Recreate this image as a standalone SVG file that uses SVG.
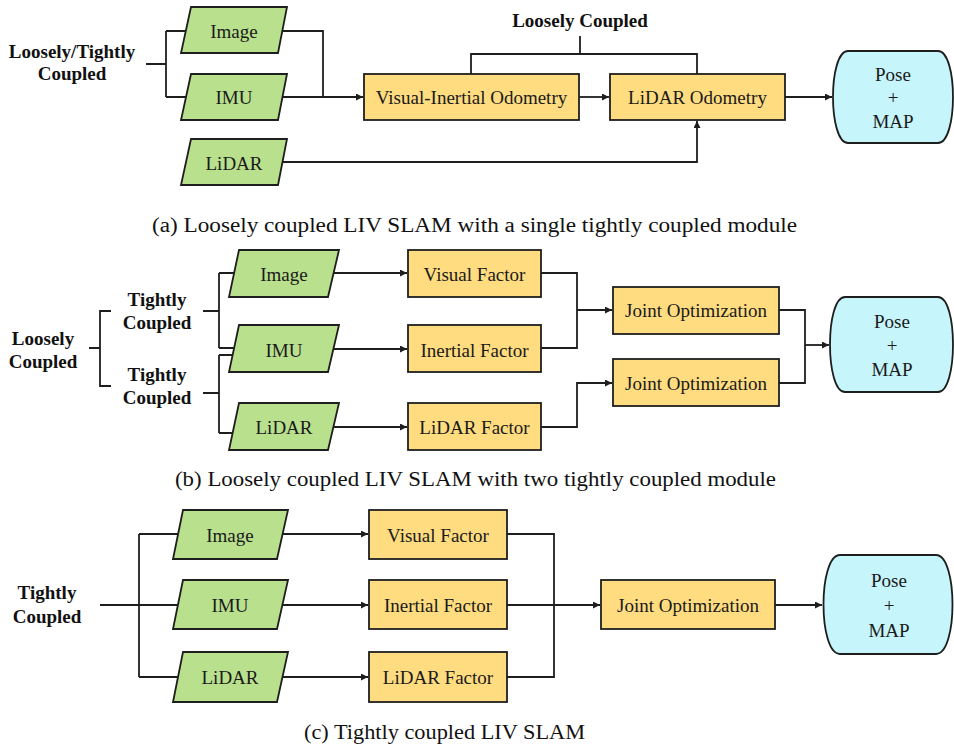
<svg xmlns="http://www.w3.org/2000/svg" width="954" height="746" viewBox="0 0 954 746">
  <style>
    .bg { fill: #ffffff; }
    .in { fill: #b9e08d; stroke: #1e1e1e; stroke-width: 1.8; }
    .box { fill: #ffdc80; stroke: #1e1e1e; stroke-width: 1.8; }
    .out { fill: #c6f5fb; stroke: #1e1e1e; stroke-width: 1.8; }
    text { font-family: 'Liberation Serif', Tinos, 'Times New Roman', 'Nimbus Roman', 'DejaVu Serif', serif; }
    .lbl { font-size: 19px; fill: #1a1a1a; text-anchor: middle; }
    .bold { font-size: 19px; font-weight: bold; fill: #111; text-anchor: middle; }
    .cap { font-size: 20.5px; fill: #111; }
    .wire { fill: none; stroke: #1e1e1e; stroke-width: 1.8; }
    .arr { fill: none; stroke: #1e1e1e; stroke-width: 1.8; marker-end: url(#head); }
  </style>
  <defs>
    <marker id="head" viewBox="0 0 10 10" refX="10" refY="5" markerWidth="8" markerHeight="7" markerUnits="userSpaceOnUse" orient="auto">
      <path d="M0,0 L10,5 L0,10 z" fill="#1e1e1e"/>
    </marker>
  </defs>
  <rect class="bg" x="0" y="0" width="954" height="746"/>

  <!-- connectors -->
  <g id="connectors">
    <!-- (a) -->
    <path class="wire" d="M146,64 H166 M166,31 V97 M166,31 H188 M166,97 H188"/>
    <path class="wire" d="M280,31 H323 V97"/>
    <path class="arr" d="M280,97 H363"/>
    <path class="arr" d="M579,97 H609"/>
    <path class="wire" d="M471,74 V54 H697 V74 M580,54 V36"/>
    <path class="arr" d="M280,162 H697 V121"/>
    <path class="arr" d="M785,97 H832"/>
    <!-- (b) -->
    <path class="wire" d="M89,348 H100 M111,311 H100 V386 H111"/>
    <path class="wire" d="M203,311 H219 M219,273 V348 M219,273 H236 M219,348 H236"/>
    <path class="wire" d="M203,393 H219 M219,355 V433 M219,355 H236 M219,433 H236"/>
    <path class="arr" d="M333,273 H407"/>
    <path class="arr" d="M333,349 H407"/>
    <path class="arr" d="M333,427 H407"/>
    <path class="wire" d="M541,273 H577 V348 H541"/>
    <path class="arr" d="M577,310 H612"/>
    <path class="arr" d="M541,427 H577 V383 H612"/>
    <path class="wire" d="M779,310 H805 V383 H779"/>
    <path class="arr" d="M805,345 H829"/>
    <!-- (c) -->
    <path class="wire" d="M100,605 H180 M139,534 V677 M139,534 H180 M139,677 H180"/>
    <path class="arr" d="M280,534 H368"/>
    <path class="arr" d="M280,605 H368"/>
    <path class="arr" d="M280,677 H368"/>
    <path class="wire" d="M507,534 H554 V677 H507"/>
    <path class="arr" d="M507,605 H600"/>
    <path class="arr" d="M775,605 H822"/>
  </g>

  <!-- (a) Loosely coupled LIV SLAM with a single tightly coupled module -->
  <g id="a-mode">
    <text class="bold" x="72" y="58">Loosely/Tightly</text>
    <text class="bold" x="72" y="80">Coupled</text>
  </g>
  <g id="a-loose">
    <text class="bold" x="580" y="27">Loosely Coupled</text>
  </g>
  <g id="a-image">
    <polygon class="in" points="191,7 287,7 278,53 181,53"/>
    <text class="lbl" x="234" y="38">Image</text>
  </g>
  <g id="a-imu">
    <polygon class="in" points="191,74 287,74 278,120 181,120"/>
    <text class="lbl" x="234" y="104">IMU</text>
  </g>
  <g id="a-lidar">
    <polygon class="in" points="191,139 287,139 278,185 181,185"/>
    <text class="lbl" x="234" y="170">LiDAR</text>
  </g>
  <g id="a-vio">
    <rect class="box" x="364" y="74" width="215" height="46"/>
    <text class="lbl" x="471.5" y="104">Visual-Inertial Odometry</text>
  </g>
  <g id="a-lo">
    <rect class="box" x="610" y="74" width="175" height="46"/>
    <text class="lbl" x="697.5" y="104">LiDAR Odometry</text>
  </g>
  <g id="a-out">
    <path class="out" d="M848,51 H938 C958,51 958,143 938,143 H848 C828,143 828,51 848,51 Z"/>
    <text class="lbl" x="893" y="81">Pose</text>
    <text class="lbl" x="893" y="104">+</text>
    <text class="lbl" x="893" y="128">MAP</text>
  </g>
  <text class="cap" x="152" y="232" textLength="645" lengthAdjust="spacingAndGlyphs">(a)  Loosely coupled LIV SLAM with a single tightly coupled module</text>

  <!-- (b) Loosely coupled LIV SLAM with two tightly coupled module -->
  <g id="b-mode">
    <text class="bold" x="43" y="345">Loosely</text>
    <text class="bold" x="43" y="368">Coupled</text>
  </g>
  <g id="b-tight1">
    <text class="bold" x="157" y="306">Tightly</text>
    <text class="bold" x="157" y="329">Coupled</text>
  </g>
  <g id="b-tight2">
    <text class="bold" x="157" y="381">Tightly</text>
    <text class="bold" x="157" y="404">Coupled</text>
  </g>
  <g id="b-image">
    <polygon class="in" points="239,250 339,250 328,297 229,297"/>
    <text class="lbl" x="284" y="281">Image</text>
  </g>
  <g id="b-imu">
    <polygon class="in" points="239,325 339,325 328,372 229,372"/>
    <text class="lbl" x="284" y="357">IMU</text>
  </g>
  <g id="b-lidar">
    <polygon class="in" points="239,403 339,403 328,450 229,450"/>
    <text class="lbl" x="284" y="434">LiDAR</text>
  </g>
  <g id="b-visual">
    <rect class="box" x="408" y="250" width="133" height="47"/>
    <text class="lbl" x="474.5" y="281">Visual Factor</text>
  </g>
  <g id="b-inertial">
    <rect class="box" x="408" y="325" width="133" height="47"/>
    <text class="lbl" x="474.5" y="357">Inertial Factor</text>
  </g>
  <g id="b-lidarf">
    <rect class="box" x="408" y="403" width="133" height="47"/>
    <text class="lbl" x="474.5" y="434">LiDAR Factor</text>
  </g>
  <g id="b-jo1">
    <rect class="box" x="613" y="287" width="166" height="47"/>
    <text class="lbl" x="696" y="317">Joint Optimization</text>
  </g>
  <g id="b-jo2">
    <rect class="box" x="613" y="359" width="166" height="47"/>
    <text class="lbl" x="696" y="390">Joint Optimization</text>
  </g>
  <g id="b-out">
    <path class="out" d="M845,297 H938 C958,297 958,392 938,392 H845 C825,392 825,297 845,297 Z"/>
    <text class="lbl" x="892" y="328">Pose</text>
    <text class="lbl" x="892" y="352">+</text>
    <text class="lbl" x="892" y="376">MAP</text>
  </g>
  <text class="cap" x="175" y="486" textLength="601" lengthAdjust="spacingAndGlyphs">(b) Loosely coupled LIV SLAM with two tightly coupled module</text>

  <!-- (c) Tightly coupled LIV SLAM -->
  <g id="c-mode">
    <text class="bold" x="47" y="599">Tightly</text>
    <text class="bold" x="47" y="623">Coupled</text>
  </g>
  <g id="c-image">
    <polygon class="in" points="183,510 288,510 277,559 173,559"/>
    <text class="lbl" x="230" y="542">Image</text>
  </g>
  <g id="c-imu">
    <polygon class="in" points="183,580 288,580 277,629 173,629"/>
    <text class="lbl" x="230" y="612">IMU</text>
  </g>
  <g id="c-lidar">
    <polygon class="in" points="183,652 288,652 277,702 173,702"/>
    <text class="lbl" x="230" y="684">LiDAR</text>
  </g>
  <g id="c-visual">
    <rect class="box" x="369" y="510" width="138" height="49"/>
    <text class="lbl" x="438" y="542">Visual Factor</text>
  </g>
  <g id="c-inertial">
    <rect class="box" x="369" y="580" width="138" height="49"/>
    <text class="lbl" x="438" y="612">Inertial Factor</text>
  </g>
  <g id="c-lidarf">
    <rect class="box" x="369" y="652" width="138" height="50"/>
    <text class="lbl" x="438" y="684">LiDAR Factor</text>
  </g>
  <g id="c-jo">
    <rect class="box" x="601" y="580" width="174" height="49"/>
    <text class="lbl" x="688" y="612">Joint Optimization</text>
  </g>
  <g id="c-out">
    <path class="out" d="M840,555 H936 C958,555 958,654 936,654 H840 C818,654 818,555 840,555 Z"/>
    <text class="lbl" x="889" y="587">Pose</text>
    <text class="lbl" x="889" y="612">+</text>
    <text class="lbl" x="889" y="637">MAP</text>
  </g>
  <text class="cap" x="304" y="739" textLength="281" lengthAdjust="spacingAndGlyphs">(c) Tightly coupled LIV SLAM</text>
</svg>
